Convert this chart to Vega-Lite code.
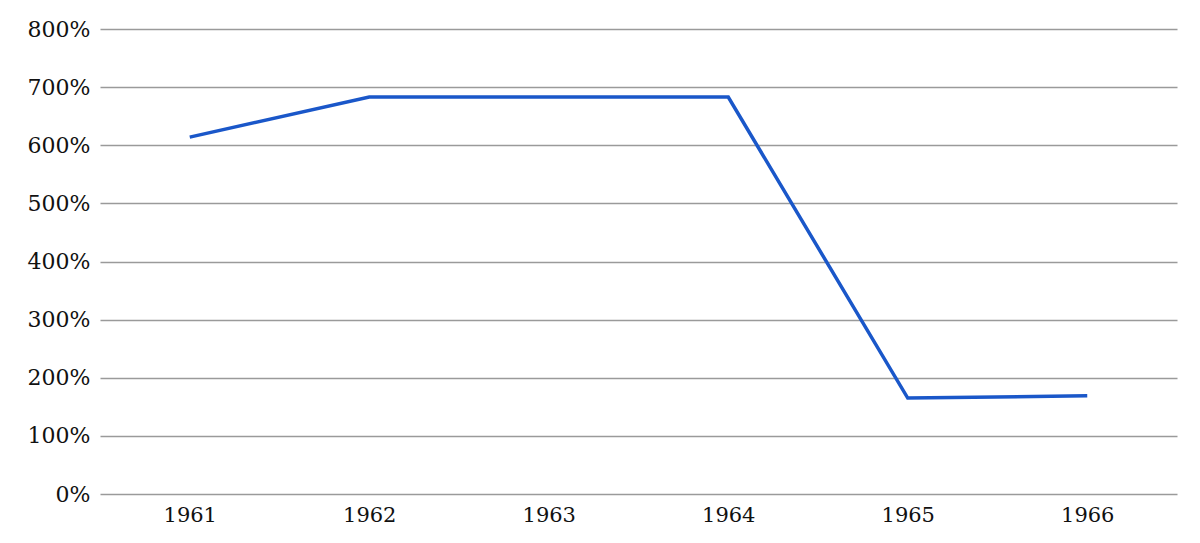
{
  "$schema": "https://vega.github.io/schema/vega-lite/v6.json",
  "autosize": {"type": "none"},
  "width": 1077,
  "height": 465,
  "padding": {"left": 100, "top": 29, "right": 23, "bottom": 49},
  "background": "white",
  "data": {"values": [
    {"year": "1961", "value": 6.14},
    {"year": "1962", "value": 6.83},
    {"year": "1963", "value": 6.83},
    {"year": "1964", "value": 6.83},
    {"year": "1965", "value": 1.65},
    {"year": "1966", "value": 1.69}
  ]},
  "config": {"view": {"stroke": null}, "font": "DejaVu Serif"},
  "mark": {"type": "line", "color": "#1a57c9", "strokeWidth": 3.5},
  "encoding": {
    "x": {"field": "year", "type": "ordinal", "scale": {"type": "point", "padding": 0.5},
      "axis": {"title": null, "labelAngle": 0, "ticks": false, "domain": false, "labelFont": "DejaVu Serif", "labelFontSize": 21, "labelColor": "#111", "labelPadding": 10}},
    "y": {"field": "value", "type": "quantitative", "scale": {"domain": [0, 8]},
      "axis": {"title": null, "format": ".0%", "values": [0,1,2,3,4,5,6,7,8], "ticks": false, "domain": false, "grid": true, "gridColor": "#9a9a9a", "gridWidth": 1.5, "labelFont": "DejaVu Serif", "labelFontSize": 22, "labelColor": "#111", "labelPadding": 10}}
  }
}
